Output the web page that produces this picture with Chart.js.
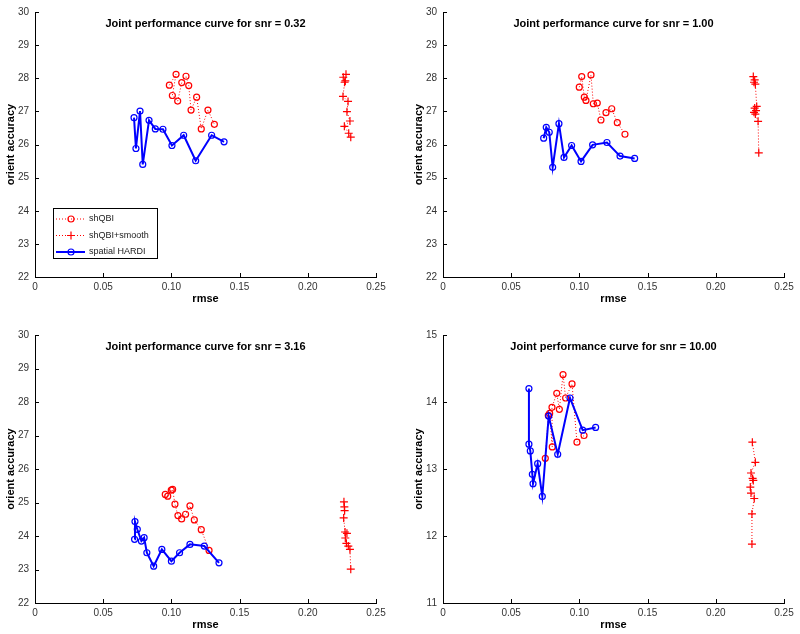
<!DOCTYPE html>
<html>
<head>
<meta charset="utf-8">
<script src="https://cdn.jsdelivr.net/npm/chart.js@4.4.0/dist/chart.umd.min.js"></script>
<style>
  body { margin: 0; background: #fff; }
  #wrap { position: relative; width: 800px; height: 634px; background: #fff; }
  .panel { position: absolute; width: 400px; height: 317px; }
</style>
</head>
<body>
<div id="wrap">
  <div class="panel" style="left:0;top:0"><canvas id="c1" width="400" height="317"></canvas></div>
  <div class="panel" style="left:400px;top:0"><canvas id="c2" width="400" height="317"></canvas></div>
  <div class="panel" style="left:0;top:317px"><canvas id="c3" width="400" height="317"></canvas></div>
  <div class="panel" style="left:400px;top:317px"><canvas id="c4" width="400" height="317"></canvas></div>
</div>
<script>
// snr values for the four titles
const snrLabels = ['0.32', '1.00', '3.16', '10.00'];
const xTicks = [0, 0.05, 0.1, 0.15, 0.2, 0.25];

// snr = 0.32
const qbi1X = [0.0985, 0.1034, 0.1007, 0.1046, 0.1076, 0.1107, 0.1127, 0.1144, 0.1185, 0.1219, 0.1268, 0.1315];
const qbi1Y = [27.79, 28.12, 27.48, 27.31, 27.87, 28.06, 27.78, 27.04, 27.43, 26.47, 27.04, 26.61];
const smooth1X = [0.2280, 0.2260, 0.2275, 0.2270, 0.2258, 0.2295, 0.2287, 0.2309, 0.2268, 0.2300, 0.2315];
const smooth1Y = [28.12, 28.03, 27.92, 27.88, 27.45, 27.30, 26.99, 26.71, 26.55, 26.34, 26.22];
const hardi1X = [0.0726, 0.0740, 0.0770, 0.0790, 0.0836, 0.0882, 0.0938, 0.1004, 0.1090, 0.1178, 0.1295, 0.1386];
const hardi1Y = [26.81, 25.88, 27.01, 25.40, 26.73, 26.47, 26.46, 25.97, 26.28, 25.51, 26.28, 26.08];

// snr = 1.00
const qbi2X = [0.0999, 0.1017, 0.1036, 0.1048, 0.1085, 0.1102, 0.1131, 0.1158, 0.1195, 0.1237, 0.1278, 0.1334];
const qbi2Y = [27.73, 28.05, 27.43, 27.33, 28.10, 27.23, 27.25, 26.74, 26.96, 27.08, 26.66, 26.31];
const smooth2X = [0.2275, 0.2285, 0.2280, 0.2290, 0.2300, 0.2285, 0.2295, 0.2280, 0.2290, 0.2310, 0.2315];
const smooth2Y = [28.05, 27.95, 27.88, 27.82, 27.15, 27.10, 27.02, 26.97, 26.92, 26.70, 25.75];
const hardi2X = [0.0738, 0.0757, 0.0779, 0.0804, 0.0850, 0.0887, 0.0943, 0.1012, 0.1097, 0.1202, 0.1298, 0.1405];
const hardi2Y = [26.19, 26.52, 26.37, 25.31, 26.63, 25.61, 25.97, 25.49, 25.99, 26.06, 25.65, 25.58];

// snr = 3.16
const qbi3X = [0.0955, 0.0973, 0.0999, 0.1009, 0.1026, 0.1048, 0.1075, 0.1104, 0.1136, 0.1168, 0.1219, 0.1276];
const qbi3Y = [25.24, 25.19, 25.37, 25.39, 24.95, 24.61, 24.51, 24.65, 24.90, 24.48, 24.19, 23.57];
const smooth3X = [0.2265, 0.2268, 0.2270, 0.2263, 0.2273, 0.2287, 0.2275, 0.2283, 0.2297, 0.2309, 0.2315];
const smooth3Y = [25.02, 24.87, 24.76, 24.54, 24.12, 24.08, 23.94, 23.78, 23.70, 23.60, 23.01];
const hardi3X = [0.0730, 0.0733, 0.0750, 0.0780, 0.0800, 0.0820, 0.0870, 0.0930, 0.1000, 0.1060, 0.1136, 0.1241, 0.1349];
const hardi3Y = [23.90, 24.43, 24.20, 23.85, 23.95, 23.50, 23.10, 23.60, 23.25, 23.50, 23.75, 23.70, 23.20];

// snr = 10.00
const qbi4X = [0.0750, 0.0772, 0.0782, 0.0801, 0.0799, 0.0834, 0.0853, 0.0880, 0.0899, 0.0946, 0.0982, 0.1034];
const qbi4Y = [13.16, 13.80, 13.83, 13.33, 13.92, 14.13, 13.89, 14.41, 14.06, 14.27, 13.40, 13.50];
const smooth4X = [0.2268, 0.2290, 0.2258, 0.2270, 0.2275, 0.2253, 0.2258, 0.2282, 0.2265, 0.2265];
const smooth4Y = [13.40, 13.10, 12.94, 12.86, 12.83, 12.73, 12.64, 12.56, 12.33, 11.88];
const hardi4X = [0.0630, 0.0630, 0.0640, 0.0655, 0.0660, 0.0694, 0.0728, 0.0775, 0.0841, 0.0931, 0.1024, 0.1119];
const hardi4Y = [14.20, 13.37, 13.27, 12.92, 12.78, 13.08, 12.59, 13.79, 13.22, 14.06, 13.58, 13.62];

const legendLabels = ['shQBI', 'shQBI+smooth', 'spatial HARDI'];

const RED = '#ff0000';
const BLUE = '#0000ff';
const FONT = '"Liberation Sans", Arial, Helvetica, sans-serif';

const pts = (xs, ys) => xs.map((x, i) => ({ x: x, y: ys[i] }));

// MATLAB-ish ticks pointing inward + title inside the axes + boxed legend
const axesDecor = {
    id: 'axesDecor',
    afterDraw(chart, args, opts) {
        const ctx = chart.ctx;
        const xs = chart.scales.x, ys = chart.scales.y;
        const a = chart.chartArea;
        ctx.save();
        ctx.strokeStyle = '#000';
        ctx.lineWidth = 1;
        ctx.beginPath();
        xs.ticks.forEach(t => {
            const px = Math.round(xs.getPixelForValue(t.value)) + 0.5;
            ctx.moveTo(px, a.bottom);
            ctx.lineTo(px, a.bottom - 4);
        });
        ys.ticks.forEach(t => {
            const py = Math.round(ys.getPixelForValue(t.value)) + 0.5;
            ctx.moveTo(a.left, py);
            ctx.lineTo(a.left + 4, py);
        });
        ctx.stroke();

        ctx.fillStyle = '#000';
        ctx.font = 'bold 11px ' + FONT;
        ctx.textAlign = 'center';
        ctx.textBaseline = 'middle';
        ctx.fillText(opts.text, (a.left + a.right) / 2, a.top + 12);

        if (opts.legend) {
            const L = opts.legend;
            ctx.fillStyle = '#fff';
            ctx.fillRect(L.x, L.y, L.w, L.h);
            ctx.strokeStyle = '#000';
            ctx.lineWidth = 1;
            ctx.strokeRect(L.x + 0.5, L.y + 0.5, L.w, L.h);
            const rows = [
                { color: RED, dash: [1, 2], width: 1, marker: 'circle' },
                { color: RED, dash: [1, 2], width: 1, marker: 'cross' },
                { color: BLUE, dash: [], width: 2, marker: 'circle' }
            ];
            rows.forEach((r, i) => {
                const y = L.y + 11 + i * 16.5;
                ctx.strokeStyle = r.color;
                ctx.lineWidth = r.width;
                ctx.setLineDash(r.dash);
                ctx.beginPath();
                ctx.moveTo(L.x + 3, y);
                ctx.lineTo(L.x + 32, y);
                ctx.stroke();
                ctx.setLineDash([]);
                ctx.lineWidth = 1.2;
                ctx.beginPath();
                if (r.marker === 'circle') {
                    ctx.arc(L.x + 18, y, 3, 0, Math.PI * 2);
                } else {
                    ctx.moveTo(L.x + 14, y); ctx.lineTo(L.x + 22, y);
                    ctx.moveTo(L.x + 18, y - 4); ctx.lineTo(L.x + 18, y + 4);
                }
                ctx.stroke();
                ctx.fillStyle = '#222';
                ctx.font = '9px ' + FONT;
                ctx.textAlign = 'left';
                ctx.fillText(legendLabels[i], L.x + 36, y);
            });
        }
        ctx.restore();
    }
};

function makePanel(id, idx, qbi, smooth, hardi, yMin, yMax, geo) {
    const ctx = document.getElementById(id).getContext('2d');
    return new Chart(ctx, {
        type: 'scatter',
        data: {
            datasets: [
                {
                    label: legendLabels[2],
                    data: hardi,
                    showLine: true,
                    borderColor: BLUE,
                    borderWidth: 2,
                    pointStyle: 'circle',
                    pointRadius: 3,
                    pointBorderWidth: 1.2,
                    pointBorderColor: BLUE,
                    pointBackgroundColor: 'rgba(0,0,0,0)'
                },
                {
                    label: legendLabels[0],
                    data: qbi,
                    showLine: true,
                    borderColor: RED,
                    borderWidth: 1,
                    borderDash: [1, 2],
                    pointStyle: 'circle',
                    pointRadius: 3,
                    pointBorderWidth: 1.2,
                    pointBorderColor: RED,
                    pointBackgroundColor: 'rgba(0,0,0,0)'
                },
                {
                    label: legendLabels[1],
                    data: smooth,
                    showLine: true,
                    borderColor: RED,
                    borderWidth: 1,
                    borderDash: [1, 2],
                    pointStyle: 'cross',
                    pointRadius: 4,
                    pointBorderWidth: 1.2,
                    pointBorderColor: RED
                }
            ]
        },
        options: {
            responsive: false,
            animation: false,
            layout: { padding: { left: 0, top: geo.top, right: geo.right, bottom: 0 } },
            plugins: {
                legend: { display: false },
                tooltip: { enabled: false },
                axesDecor: { text: 'Joint performance curve for snr = ' + snrLabels[idx], legend: geo.legend }
            },
            scales: {
                x: {
                    type: 'linear',
                    min: 0,
                    max: 0.25,
                    afterBuildTicks: s => { s.ticks = xTicks.map(v => ({ value: v })); },
                    afterFit: s => { s.height = geo.xh; },
                    grid: { display: false, drawTicks: false, tickLength: 0 },
                    border: { display: true, color: '#000', width: 1 },
                    ticks: { color: '#333', font: { size: 10, family: FONT }, padding: 4, maxRotation: 0 },
                    title: {
                        display: true, text: 'rmse', color: '#000',
                        font: { size: 11, weight: 'bold', family: FONT },
                        padding: { top: 0, bottom: geo.xtp }
                    }
                },
                y: {
                    min: yMin,
                    max: yMax,
                    ticks: { stepSize: 1, color: '#333', font: { size: 10, family: FONT }, padding: 6 },
                    afterFit: s => { s.width = geo.yw; },
                    grid: { display: false, drawTicks: false, tickLength: 0 },
                    border: { display: true, color: '#000', width: 1 },
                    title: {
                        display: true, text: 'orient accuracy', color: '#000',
                        font: { size: 11, weight: 'bold', family: FONT },
                        padding: { top: geo.ytp, bottom: 0 }
                    }
                }
            }
        },
        plugins: [axesDecor]
    });
}

const legendBox = { x: 53, y: 208, w: 104, h: 50 };

makePanel('c1', 0, pts(qbi1X, qbi1Y), pts(smooth1X, smooth1Y), pts(hardi1X, hardi1Y), 22, 30,
    { top: 9, right: 24, xh: 40, xtp: 11, yw: 35, ytp: 4, legend: legendBox });
makePanel('c2', 1, pts(qbi2X, qbi2Y), pts(smooth2X, smooth2Y), pts(hardi2X, hardi2Y), 22, 30,
    { top: 9, right: 16, xh: 40, xtp: 11, yw: 43, ytp: 12 });
makePanel('c3', 2, pts(qbi3X, qbi3Y), pts(smooth3X, smooth3Y), pts(hardi3X, hardi3Y), 22, 30,
    { top: 18, right: 24, xh: 31, xtp: 2, yw: 35, ytp: 4 });
makePanel('c4', 3, pts(qbi4X, qbi4Y), pts(smooth4X, smooth4Y), pts(hardi4X, hardi4Y), 11, 15,
    { top: 18, right: 16, xh: 31, xtp: 2, yw: 43, ytp: 12 });
</script>
</body>
</html>
